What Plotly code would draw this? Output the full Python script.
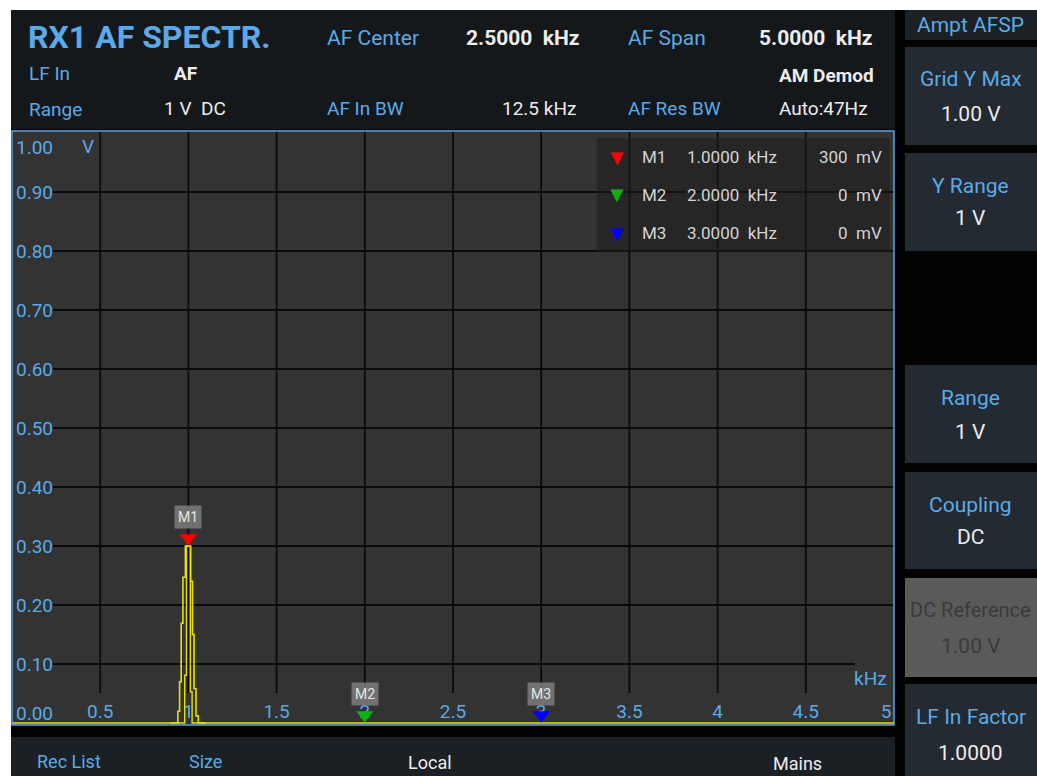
import plotly.graph_objects as go

# ---------------- data ----------------
freq_khz = [0.0, 0.940, 0.950, 0.959, 0.969, 0.983, 1.013, 1.023, 1.032, 1.043, 1.056, 5.0]
amp_v = [0.0, 0.020, 0.070, 0.169, 0.247, 0.300, 0.240, 0.150, 0.058, 0.012, 0.0, 0.0]
inner_freq_khz = [0.90, 0.979, 0.989, 1.011, 1.021, 1.10]
inner_amp_v = [0.0, 0.081, 0.300, 0.053, 0.0, 0.0]

marker_names = ["M1", "M2", "M3"]
marker_freq = [1.0, 2.0, 3.0]
marker_amp = [0.300, 0.0, 0.0]
marker_colors = ["#ff0000", "#10b010", "#0000ff"]
marker_readout = ["300", "0", "0"]

x_ticks = [0.5, 1.0, 1.5, 2.0, 2.5, 3.0, 3.5, 4.0, 4.5, 5.0]
x_tick_labels = ["0.5", "1", "1.5", "2", "2.5", "3", "3.5", "4", "4.5", "5"]
y_ticks = [0.0, 0.1, 0.2, 0.3, 0.4, 0.5, 0.6, 0.7, 0.8, 0.9, 1.0]
y_tick_labels = ["0.00", "0.10", "0.20", "0.30", "0.40", "0.50", "0.60", "0.70", "0.80", "0.90", "1.00"]

# ---------------- style ----------------
FONT = "Roboto, Liberation Sans, sans-serif"
BLUE = "#5aaae8"
WHITE = "#ececec"
GRAY_TXT = "#d4d4d4"
HEADER_BG = "#15181b"
BTN_BG = "#232a31"
PLOT_BG = "#333333"
GRID = "#0a0a0a"
YELLOW = "#e8e000"

FW, FH = 1037, 776
L, R, T, B = 12, 894, 131, 725  # plot area in page pixels
W, H = R - L, B - T


def px(x):
    return (x - L) / W


def py(y):
    return (B - y) / H


Y0 = -(B - 723) / 590
Y1 = 1 + (133 - T) / 590
PX_PER_V = 590

shapes = []
ann = []


def rect(x0, y0, x1, y1, color, layer="below", line=None):
    shapes.append(dict(type="rect", xref="paper", yref="paper",
                       x0=px(x0), x1=px(x1), y0=py(y1), y1=py(y0),
                       fillcolor=color, line=line or dict(width=0), layer=layer))


def txt(s, x, y, size, color, anchor="left", bold=False):
    ann.append(dict(text=s, x=px(x), y=py(y), xref="paper", yref="paper",
                    xanchor=anchor, yanchor="middle", showarrow=False,
                    font=dict(family=FONT, size=size, color=color,
                              weight="bold" if bold else "normal")))


# backgrounds
rect(11, 10, 1037, 776, "#030303")
rect(11, 10, 895, 129, HEADER_BG)
rect(L, T, R, B, PLOT_BG)
rect(11, 737, 895, 776, "#1b2025")
# right column buttons
buttons = [(10, 40), (47, 145), (153, 251), (365, 463), (472, 569), (578, 677), (684, 776)]
for i, (a, b) in enumerate(buttons):
    col = "#5a5a5a" if i == 5 else ("#1c2126" if i == 0 else BTN_BG)
    rect(905, a, 1037, b, col)

# plot gridlines
for yv in y_ticks[1:-1]:
    xend = 1.0 if yv > 0.15 else px(855)
    shapes.append(dict(type="line", xref="paper", yref="y", x0=px(53), x1=xend,
                       y0=yv, y1=yv, line=dict(color=GRID, width=1.8), layer="below"))
for xv in x_ticks[:-1]:
    shapes.append(dict(type="line", xref="x", yref="paper", x0=xv, x1=xv,
                       y0=py(693), y1=1, line=dict(color=GRID, width=1.8), layer="below"))
# marker table overlay
rect(597, 138, 890, 252, "rgba(28,28,28,0.55)", layer="below")
# plot border
shapes.append(dict(type="rect", xref="paper", yref="paper", x0=0, x1=1, y0=0, y1=1,
                   line=dict(color="#5aa4de", width=1.5), layer="above"))

# header text
txt("RX1 AF SPECTR.", 26, 37, 32, BLUE, bold=True)
txt("AF Center", 325, 38, 21, BLUE)
txt("2.5000\u00a0\u00a0kHz", 464, 38, 21, WHITE, bold=True)
txt("AF Span", 626, 38, 21, BLUE)
txt("5.0000\u00a0\u00a0kHz", 757, 38, 21, WHITE, bold=True)
txt("LF In", 27, 74, 19, BLUE)
txt("AF", 172, 74, 19, WHITE, bold=True)
txt("AM Demod", 876, 75, 19, WHITE, anchor="right", bold=True)
txt("Range", 27, 109, 19, BLUE)
txt("1 V\u00a0\u00a0DC", 162, 108, 19, WHITE)
txt("AF In BW", 325, 108, 19, BLUE)
txt("12.5 kHz", 578, 108, 19, WHITE, anchor="right")
txt("AF Res BW", 626, 108, 19, BLUE)
txt("Auto:47Hz", 870, 108, 19, WHITE, anchor="right")

# right column text
CX = 971
txt("Ampt AFSP", CX, 25, 21, BLUE, anchor="center")
txt("Grid Y Max", CX, 79, 21, BLUE, anchor="center")
txt("1.00 V", CX, 114, 21, WHITE, anchor="center")
txt("Y Range", CX, 186, 21, BLUE, anchor="center")
txt("1 V", CX, 218, 21, WHITE, anchor="center")
txt("Range", CX, 398, 21, BLUE, anchor="center")
txt("1 V", CX, 432, 21, WHITE, anchor="center")
txt("Coupling", CX, 505, 21, BLUE, anchor="center")
txt("DC", CX, 537, 21, WHITE, anchor="center")
txt("DC Reference", CX, 610, 20, "#3a3a3a", anchor="center")
txt("1.00 V", CX, 646, 21, "#3a3a3a", anchor="center")
txt("LF In Factor", CX, 717, 21, BLUE, anchor="center")
txt("1.0000", CX, 753, 21, WHITE, anchor="center")

# bottom bar
txt("Rec List", 35, 761, 18, BLUE)
txt("Size", 187, 761, 18, BLUE)
txt("Local", 406, 762, 18, WHITE)
txt("Mains", 771, 763, 18, WHITE)

# y tick labels
for yv, lab in zip(y_ticks, y_tick_labels):
    shift = -14 if yv == 1.0 else (10 if yv == 0.0 else 0)
    ann.append(dict(text=lab, x=px(14), y=yv, xref="paper", yref="y", xanchor="left",
                    yanchor="middle", yshift=shift, showarrow=False,
                    font=dict(family=FONT, size=19, color=BLUE)))
txt("V", 80, 146, 19, BLUE)
txt("kHz", 889, 678, 19, BLUE, anchor="right")

# marker table rows
for i, (nm, f, c, rd) in enumerate(zip(marker_names, marker_freq, marker_colors, marker_readout)):
    yy = 157 + i * 38
    txt("\u25bc", 617, yy, 22, c, anchor="center")
    txt(nm, 640, yy, 17, GRAY_TXT)
    txt(f"{f:.4f}\u00a0\u00a0kHz", 685, yy, 17, GRAY_TXT)
    txt(f"{rd}\u00a0\u00a0mV", 884, yy, 17, GRAY_TXT, anchor="right")

# marker label boxes
for nm, f, a in zip(marker_names, marker_freq, marker_amp):
    ann.append(dict(text=nm, x=f, y=a, xref="x", yref="y", showarrow=False,
                    yshift=29, bgcolor="rgba(125,125,125,0.85)", borderpad=3,
                    font=dict(family=FONT, size=14, color="#e6e6e6")))

fig = go.Figure()
# x tick labels as text so markers can cover them
x_pos = [v if v < 5 else 4.985 for v in x_ticks]
fig.add_trace(go.Scatter(x=x_pos, y=[0.0] * len(x_ticks), mode="text", text=x_tick_labels,
                         textposition=["top center"] * (len(x_ticks) - 1) + ["top left"],
                         textfont=dict(family=FONT, size=19, color=BLUE),
                         cliponaxis=False, hoverinfo="skip", showlegend=False))
fig.add_trace(go.Scatter(x=freq_khz, y=amp_v, mode="lines", line_shape="hv",
                         line=dict(color=YELLOW, width=1.6), showlegend=False))
fig.add_trace(go.Scatter(x=inner_freq_khz, y=inner_amp_v, mode="lines", line_shape="hv",
                         line=dict(color=YELLOW, width=1.4), showlegend=False))
fig.add_trace(go.Scatter(x=marker_freq, y=[a + 8 / PX_PER_V for a in marker_amp],
                         mode="markers",
                         marker=dict(symbol="triangle-down", size=15, color=marker_colors,
                                     line=dict(width=0)),
                         cliponaxis=False, showlegend=False))

fig.update_layout(
    width=FW, height=FH, autosize=False,
    margin=dict(l=L, r=FW - R, t=T, b=FH - B, pad=0),
    paper_bgcolor="white", plot_bgcolor=PLOT_BG,
    xaxis=dict(range=[0, 5], showgrid=False, zeroline=False, showticklabels=False,
               ticks="", showline=False, fixedrange=True),
    yaxis=dict(range=[Y0, Y1], showgrid=False, zeroline=False, showticklabels=False,
               ticks="", showline=False, fixedrange=True),
    shapes=shapes, annotations=ann, showlegend=False,
)

fig.write_html("out.html", config={"displayModeBar": False},
               post_script="document.body.style.margin='0';document.body.style.overflow='hidden';")
